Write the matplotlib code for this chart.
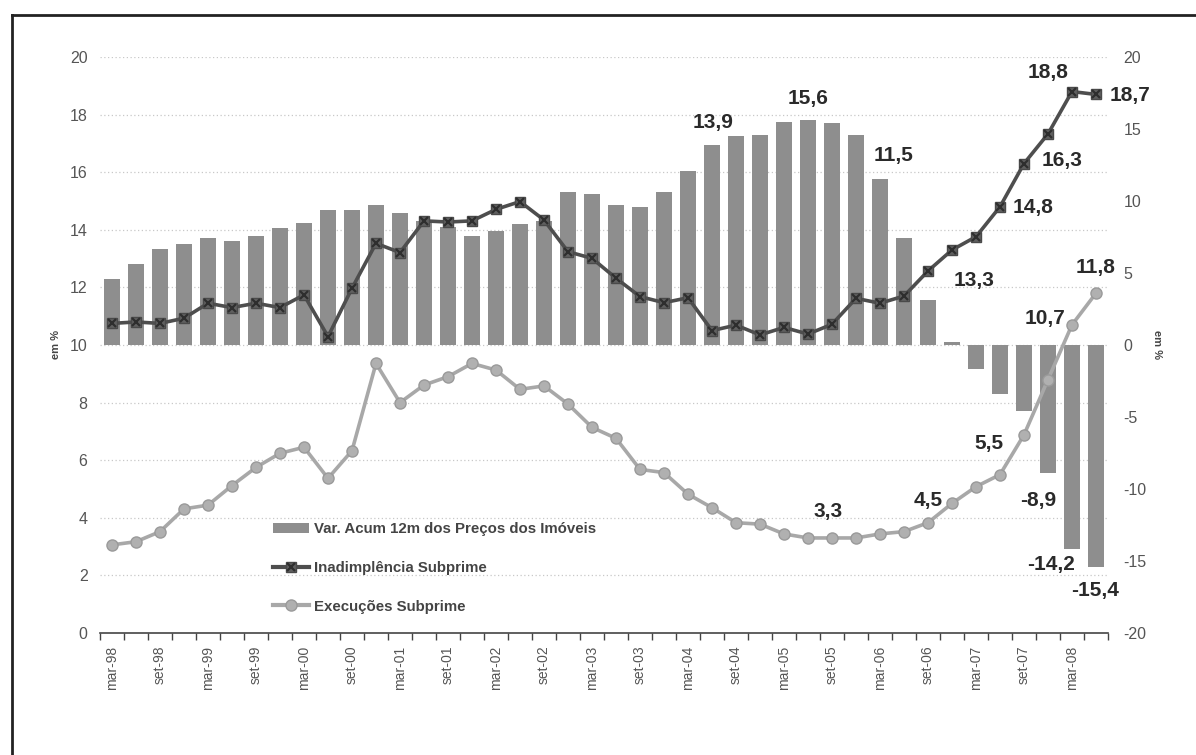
import numpy as np
import matplotlib
matplotlib.use("Agg")
import matplotlib.pyplot as plt
from matplotlib.lines import Line2D
from matplotlib.patches import Patch

plt.rcParams['font.family'] = ['Liberation Sans', 'DejaVu Sans']
plt.rcParams['axes.unicode_minus'] = False

# quarters mar-98 .. jun-08
meses = ['mar', 'jun', 'set', 'dez']
trimestres = [f"{m}-{a:02d}" for a in list(range(98, 100)) + list(range(0, 9)) for m in meses]
trimestres = trimestres[:42]

# Var. Acum 12m dos Precos dos Imoveis (right axis, %)
precos = [4.6, 5.6, 6.7, 7.0, 7.4, 7.2, 7.6, 8.1, 8.5, 9.4,
          9.4, 9.7, 9.2, 8.6, 8.2, 7.6, 7.9, 8.4, 8.6, 10.6,
          10.5, 9.7, 9.6, 10.6, 12.1, 13.9, 14.5, 14.6, 15.5, 15.6,
          15.4, 14.6, 11.5, 7.4, 3.1, 0.2, -1.7, -3.4, -4.6, -8.9,
          -14.2, -15.4]

# Inadimplencia Subprime (left axis, %)
inadimplencia = [10.75, 10.8, 10.75, 10.93, 11.45, 11.3, 11.45, 11.3, 11.74, 10.29,
                 11.97, 13.53, 13.21, 14.31, 14.27, 14.31, 14.71, 14.98, 14.34, 13.24,
                 13.01, 12.32, 11.68, 11.47, 11.64, 10.5, 10.69, 10.35, 10.61, 10.38,
                 10.72, 11.62, 11.45, 11.7, 12.57, 13.3, 13.76, 14.8, 16.3, 17.33,
                 18.8, 18.7]

# Execucoes Subprime (left axis, %)
execucoes = [3.06, 3.17, 3.52, 4.31, 4.44, 5.12, 5.75, 6.24, 6.45, 5.37,
             6.33, 9.36, 8.0, 8.61, 8.9, 9.36, 9.13, 8.46, 8.58, 7.95,
             7.14, 6.76, 5.68, 5.57, 4.82, 4.35, 3.83, 3.78, 3.44, 3.3,
             3.3, 3.3, 3.44, 3.52, 3.83, 4.5, 5.08, 5.5, 6.88, 8.8,
             10.7, 11.8]

x = np.arange(len(trimestres))

fig = plt.figure(figsize=(11.96, 7.55), dpi=100)
ax = fig.add_axes([100 / 1196, 1 - 633 / 755, 1008 / 1196, 576 / 755])
ax2 = ax.twinx()
ax.set_zorder(ax2.get_zorder() + 1)
ax.patch.set_visible(False)

# dotted gridlines (every 2 on the left axis), behind the bars
for v in np.arange(-16, 21, 4):
    ax2.axhline(v, color='#c8c8c8', lw=0.9, ls=(0, (1, 2)), zorder=0.5)

barras = ax2.bar(x, precos, width=0.66, color='#8e8e8e', zorder=2)

ax.plot(x, execucoes, color='#a8a8a8', lw=2.6, marker='o', ms=8,
        mfc='#b0b0b0', mec='#9a9a9a', zorder=3)
ax.plot(x, inadimplencia, color='#4e4e4e', lw=2.6, marker='s', ms=7,
        mfc='#606060', mec='#4a4a4a', zorder=4)
ax.plot(x, inadimplencia, ls='none', marker='x', ms=6, mew=1.6,
        color='#2e2e2e', zorder=5)

ax.set_xlim(-0.5, len(x) - 0.5)
ax.set_ylim(0, 20)
ax2.set_ylim(-20, 20)
ax.set_yticks(np.arange(0, 21, 2))
ax2.set_yticks(np.arange(-20, 21, 5))

ax.set_xticks(x[::2])
ax.set_xticklabels(trimestres[::2], rotation=90, fontsize=10, color='#555555')
ax.set_xticks(np.arange(-0.5, len(x), 1), minor=True)
ax.tick_params(axis='x', which='major', length=0, pad=9)
ax.tick_params(axis='x', which='minor', length=5, width=1, color='#444444', direction='out')
ax.tick_params(axis='y', length=0, pad=9, labelsize=11.5, labelcolor='#555555')
ax2.tick_params(axis='y', length=0, pad=11, labelsize=11.5, labelcolor='#555555')

for s in ['top', 'left', 'right']:
    ax.spines[s].set_visible(False)
    ax2.spines[s].set_visible(False)
ax2.spines['bottom'].set_visible(False)
ax.spines['bottom'].set_color('#444444')
ax.spines['bottom'].set_linewidth(1.2)

ax.set_ylabel('em %', fontsize=8, fontweight='bold', color='#444444', labelpad=6)
ax2.set_ylabel('em %', fontsize=8, fontweight='bold', color='#444444', rotation=270, labelpad=11)

lab = dict(textcoords='offset pixels', ha='center', va='center',
           fontsize=15, fontweight='bold', color='#2a2a2a', zorder=6)

# bar labels: (index, dx, dy) in pixels
for i, dx, dy in [(25, 1, 22), (29, 0, 22), (32, 14, 24),
                  (39, -10, -27), (40, -21, -15), (41, -1, -24)]:
    ax2.annotate(f"{precos[i]:.1f}".replace('.', ','), (x[i], precos[i]),
                 xytext=(dx, dy), **lab)

for i, dx, dy in [(35, 22, -31), (37, 33, -1), (38, 38, 3), (40, -24, 19), (41, 34, -1)]:
    ax.annotate(f"{inadimplencia[i]:.1f}".replace('.', ','), (x[i], inadimplencia[i]),
                xytext=(dx, dy), **lab)

for i, dx, dy in [(30, -4, 26), (35, -24, 3), (37, -11, 31), (40, -27, 6), (41, 0, 26)]:
    ax.annotate(f"{execucoes[i]:.1f}".replace('.', ','), (x[i], execucoes[i]),
                xytext=(dx, dy), **lab)

h_bar = Patch(facecolor='#8e8e8e')
h_inad = (Line2D([], [], color='#4e4e4e', lw=3, marker='s', ms=7, mfc='#606060', mec='#4a4a4a'),
          Line2D([], [], ls='none', marker='x', ms=6, mew=1.6, color='#2e2e2e'))
h_exec = Line2D([], [], color='#a8a8a8', lw=3, marker='o', ms=8, mfc='#b0b0b0', mec='#9a9a9a')
leg = ax.legend([h_bar, h_inad, h_exec],
                ['Var. Acum 12m dos Preços dos Imóveis', 'Inadimplência Subprime', 'Execuções Subprime'],
                loc='upper left', bbox_to_anchor=(273 / 1196, 1 - 522 / 755),
                bbox_transform=fig.transFigure, frameon=False, borderpad=0, borderaxespad=0,
                handlelength=2.4, handletextpad=0.3, labelspacing=1.65,
                prop={'size': 10.8, 'weight': 'bold'})
for t in leg.get_texts():
    t.set_color('#444444')

# outer frame (left and top edges)
fig.add_artist(Line2D([12 / 1196, 12 / 1196], [0, 1 - 15 / 755], color='#222222', lw=2,
                      transform=fig.transFigure))
fig.add_artist(Line2D([12 / 1196, 1], [1 - 15 / 755, 1 - 15 / 755], color='#222222', lw=2,
                      transform=fig.transFigure))

fig.savefig('out.png', dpi=100)
